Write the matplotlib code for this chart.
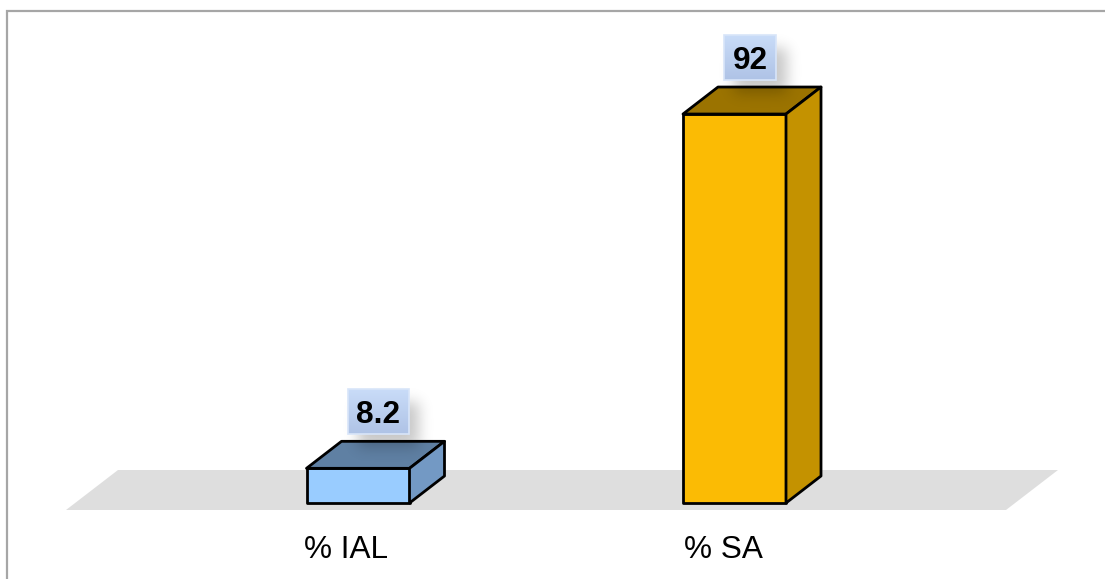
import numpy as np
import matplotlib
matplotlib.use("Agg")
import matplotlib.pyplot as plt
from matplotlib.patches import Polygon, Rectangle
from matplotlib.colors import LinearSegmentedColormap
from matplotlib.transforms import ScaledTranslation

categories = ["% IAL", "% SA"]
values = [8.2, 92]
value_labels = ["8.2", "92"]
front_colors = ["#99CCFF", "#FBBB04"]
top_colors = ["#5F80A3", "#9B7300"]
side_colors = ["#7399C4", "#C49200"]

W, H = 1105, 579
plt.rcParams["font.family"] = ["Liberation Sans", "DejaVu Sans"]
fig = plt.figure(figsize=(W / 100, H / 100), dpi=100, facecolor="white")
ax = fig.add_axes([0, 0, 1, 1])
ax.set_facecolor("none")

# Scale: pixels per category / per value unit
PX_X, PX_Y = 376.5, 4.228
X0, Y0 = 358.0, 503.0
xlim = (-X0 / PX_X, (W - X0) / PX_X)
ylim = (-(H - Y0) / PX_Y, Y0 / PX_Y)


def dx(p):
    return p / PX_X


def dy(p):
    return p / PX_Y


ax.set_xticks(range(len(categories)))
ax.set_xticklabels(categories, fontsize=22.7, color="black")
ax.set_yticks([])
ax.tick_params(axis="x", length=0, pad=-32, direction="in")
shift = ScaledTranslation(-11.5 / 100, 0, fig.dpi_scale_trans)
for lab in ax.get_xticklabels():
    lab.set_transform(lab.get_transform() + shift)
for s in ax.spines.values():
    s.set_visible(False)

# outer frame
ax.plot([dx(7 - X0), dx(7 - X0), xlim[1]], [ylim[0], dy(Y0 - 11), dy(Y0 - 11)],
        color="#A6A6A6", lw=1.6, zorder=1, solid_joinstyle="miter")

# floor
floor = [(66, 510), (1006, 510), (1058, 470), (118, 470)]
ax.add_patch(Polygon([(dx(a - X0), dy(Y0 - b)) for a, b in floor],
                     closed=True, fc="#DEDEDE", ec="none", zorder=1.2))

half = dx(51.5)
depth_x, depth_y = dx(35), dy(27)
yy, xx = np.mgrid[0:H, 0:W]
kernel = np.exp(-0.5 * (np.arange(-21, 22) / 7.0) ** 2)
kernel /= kernel.sum()
grad = LinearSegmentedColormap.from_list("g", ["#C9DCF8", "#AFC3E6"])

for i, v in enumerate(values):
    l, r = i - half, i + half
    ax.add_patch(Polygon([(l, 0), (r, 0), (r, v), (l, v)], closed=True,
                         fc=front_colors[i], ec="black", lw=2, zorder=3, joinstyle="round"))
    ax.add_patch(Polygon([(l, v), (r, v), (r + depth_x, v + depth_y), (l + depth_x, v + depth_y)],
                         closed=True, fc=top_colors[i], ec="black", lw=2, zorder=3, joinstyle="round"))
    ax.add_patch(Polygon([(r, 0), (r + depth_x, depth_y), (r + depth_x, v + depth_y), (r, v)],
                         closed=True, fc=side_colors[i], ec="black", lw=2, zorder=3, joinstyle="round"))

    # label box tied to bar top
    bw = 61 if i == 0 else 52
    bh = 45
    cx = i + dx(20 if i == 0 else 15.5)
    cy = v + dy(56.5)
    bl, br = cx - dx(bw / 2), cx + dx(bw / 2)
    bb, bt = cy - dy(bh / 2), cy + dy(bh / 2)

    # soft shadow, blurred copy of the box
    px_l, px_r = X0 + bl * PX_X + 10, X0 + br * PX_X + 10
    px_t, px_b = Y0 - bt * PX_Y + 12, Y0 - bb * PX_Y + 12
    mask = ((xx >= px_l) & (xx <= px_r) & (yy >= px_t) & (yy <= px_b)).astype(float)
    mask = np.apply_along_axis(lambda a: np.convolve(a, kernel, mode="same"), 0, mask)
    mask = np.apply_along_axis(lambda a: np.convolve(a, kernel, mode="same"), 1, mask)
    rgba = np.zeros((H, W, 4))
    rgba[..., 3] = mask * 0.22
    ax.imshow(rgba, extent=(xlim[0], xlim[1], ylim[0], ylim[1]), aspect="auto",
              origin="upper", zorder=4, interpolation="bilinear")

    ax.imshow(np.linspace(0, 1, 64).reshape(-1, 1), cmap=grad, extent=(bl, br, bb, bt),
              aspect="auto", origin="upper", zorder=5)
    ax.add_patch(Rectangle((bl, bb), br - bl, bt - bb, fc="none", ec="#D8E5F9", lw=1.2, zorder=6))
    ax.text(cx, cy, value_labels[i], ha="center", va="center_baseline", fontsize=22.7,
            fontweight="bold", color="black", zorder=7)

ax.set_xlim(*xlim)
ax.set_ylim(*ylim)
fig.savefig("out.png", dpi=100, facecolor="white")
